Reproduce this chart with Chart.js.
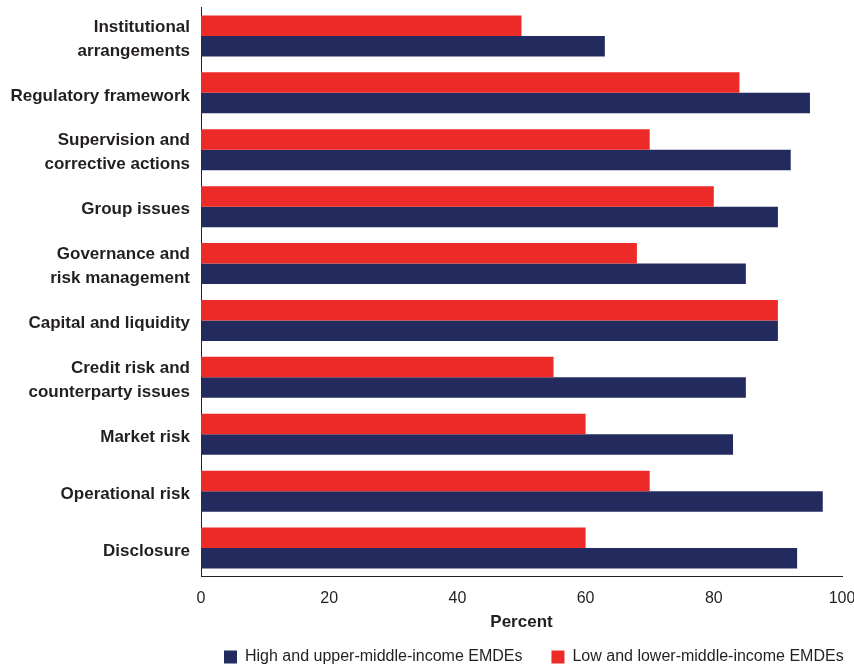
<!DOCTYPE html>
<html>
<head>
<meta charset="utf-8">
<script src="https://cdn.jsdelivr.net/npm/chart.js@4"></script>
<style>
  html, body { margin: 0; padding: 0; background: #ffffff; }
  #wrap { width: 854px; height: 667px; }
</style>
</head>
<body>
<div id="wrap"><canvas id="c" width="854" height="667"></canvas></div>
<script>
// ---- data ----
const categories = [
  ["Institutional", "arrangements"],
  "Regulatory framework",
  ["Supervision and", "corrective actions"],
  "Group issues",
  ["Governance and", "risk management"],
  "Capital and liquidity",
  ["Credit risk and", "counterparty issues"],
  "Market risk",
  "Operational risk",
  "Disclosure"
];
const lowIncomeLabel = "Low and lower-middle-income EMDEs";
const highIncomeLabel = "High and upper-middle-income EMDEs";
const lowIncome  = [50, 84, 70, 80, 68, 90, 55, 60, 70, 60];
const highIncome = [63, 95, 92, 90, 85, 90, 85, 83, 97, 93];
const xTicks = [0, 20, 40, 60, 80, 100];
const xTitle = "Percent";

// ---- style ----
const RED = "#EC2A27";
const NAVY = "#232A5E";
const INK = "#231F20";
const FONT = "'Liberation Sans', Arial, sans-serif";

const legendShift = {
  id: 'legendShift',
  afterLayout(chart) {
    const lg = chart.legend;
    if (lg) { lg.left = 195; lg.right = 2000; }
  }
};

new Chart(document.getElementById('c'), {
  type: 'bar',
  data: {
    labels: categories,
    datasets: [
      { label: lowIncomeLabel, data: lowIncome, backgroundColor: RED,
        categoryPercentage: 0.72, barPercentage: 1.0 },
      { label: highIncomeLabel, data: highIncome, backgroundColor: NAVY,
        categoryPercentage: 0.72, barPercentage: 1.0 }
    ]
  },
  options: {
    indexAxis: 'y',
    responsive: false,
    animation: false,
    devicePixelRatio: 1,
    layout: { padding: { top: 7.5, right: 12, bottom: 0, left: 0 } },
    plugins: {
      tooltip: { enabled: false },
      legend: {
        position: 'bottom',
        align: 'start',
        reverse: true,
        maxHeight: 47,
        labels: {
          boxWidth: 13, boxHeight: 13, padding: 29,
          color: INK,
          font: { family: FONT, size: 16 }
        }
      }
    },
    scales: {
      x: {
        type: 'linear',
        min: 0, max: 100,
        afterBuildTicks(s) { s.ticks = xTicks.map(v => ({ value: v })); },
        afterFit(s) { s.height = 43.5; s.paddingLeft = 0; s.paddingRight = 0; },
        grid: { display: false, drawTicks: false },
        border: { display: true, color: INK, width: 1 },
        ticks: { color: INK, padding: 12, font: { family: FONT, size: 16 } },
        title: {
          display: true, text: xTitle, color: INK,
          font: { family: FONT, size: 17, weight: 'bold' },
          padding: { top: 0, bottom: -12.2 }
        }
      },
      y: {
        afterFit(s) { s.width = 201; s.paddingTop = 0; s.paddingBottom = 0; },
        grid: { display: false, drawTicks: false },
        border: { display: true, color: INK, width: 1 },
        ticks: {
          color: INK, padding: 11, labelOffset: 3,
          font: { family: FONT, size: 17, weight: 'bold', lineHeight: 1.41 }
        }
      }
    }
  },
  plugins: [legendShift]
});
</script>
</body>
</html>
